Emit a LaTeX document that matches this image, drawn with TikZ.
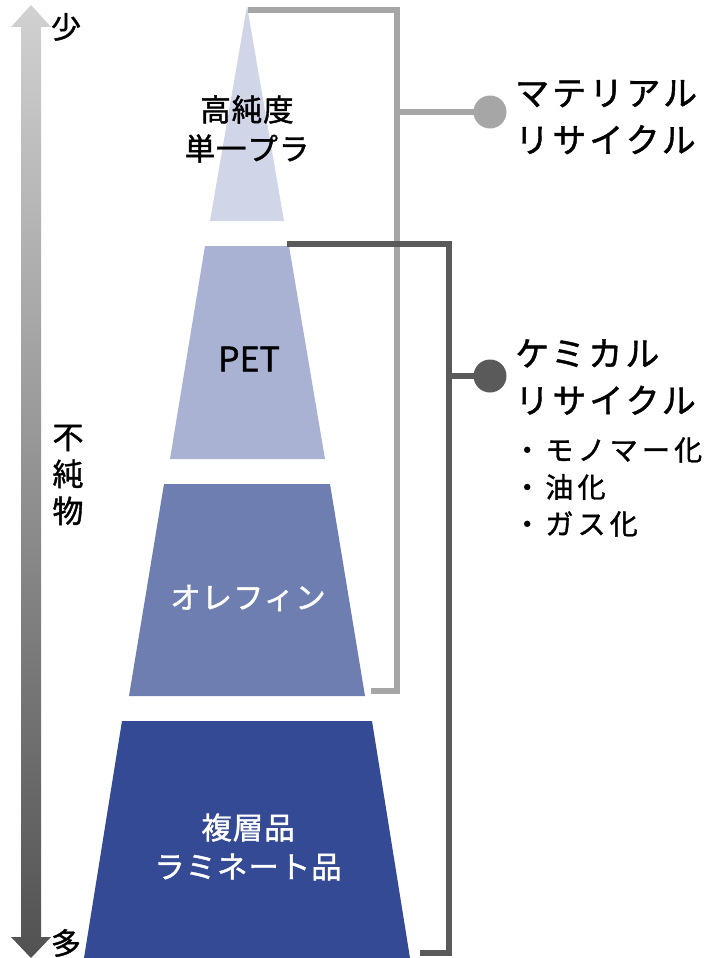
\documentclass[tikz,border=0pt]{standalone}
\usepackage{fontspec}
\setmainfont{Noto Sans CJK JP}[AutoFakeBold=1.3]
\newfontfamily\jplbl{Noto Sans CJK JP}[LetterSpace=3,AutoFakeBold=1.3]
\newfontfamily\jpwide{Noto Sans CJK JP}[LetterSpace=9,AutoFakeBold=1.3]
\newfontfamily\jpbul{Noto Sans CJK JP}[LetterSpace=15,AutoFakeBold=1.3]
\definecolor{lvA}{HTML}{D0D5E7}
\definecolor{lvB}{HTML}{A9B2D3}
\definecolor{lvC}{HTML}{6E7EB1}
\definecolor{lvD}{HTML}{344A94}
\definecolor{matgray}{HTML}{A6A6A6}
\definecolor{chemgray}{HTML}{5A5A5A}
\tikzset{
  layer/.style={draw=none},
  bracket/.style={line width=6pt, line join=miter},
  dot/.style={circle, minimum size=33pt, inner sep=0pt},
  lbl/.style={font=\jplbl\bfseries\fontsize{30.5}{39}\selectfont, align=center, inner sep=0pt},
  wlbl/.style={lbl, text=white},
  big/.style={font=\jpwide\bfseries\fontsize{34}{47}\selectfont, align=left, inner sep=0pt, anchor=west},
  bul/.style={font=\jpbul\bfseries\fontsize{28}{37}\selectfont, align=left, inner sep=0pt, anchor=west},
  side/.style={font=\bfseries\fontsize{30}{37}\selectfont, inner sep=0pt}
}
\begin{document}
\begin{tikzpicture}[x=1pt,y=-1pt]
\useasboundingbox (0,0) rectangle (707,958);
% gradient arrow
\shade[top color=black!18, bottom color=black!68]
  (31,5) -- (51,27) -- (41,27) -- (41,937) -- (51,937) -- (31,958) -- (11,937) -- (21,937) -- (21,27) -- (11,27) -- cycle;
\node[side] (few) at (66,27) {少};
\node[side] (many) at (66,943) {多};
\node[side, align=center, font=\bfseries\fontsize{31}{37}\selectfont] (impure) at (68,475) {不\\純\\物};
% pyramid layers
\fill[lvA, layer] (247,6) -- (284,221) -- (210,221) -- cycle;
\fill[lvB, layer] (205,246) -- (289,246) -- (325,459) -- (170,459) -- cycle;
\fill[lvC, layer] (164,484) -- (330,484) -- (365,696) -- (129,696) -- cycle;
\fill[lvD, layer] (122,721) -- (372,721) -- (410,958) -- (84,958) -- cycle;
\node[lbl] (pure) at (247,129) {高純度\\単一プラ};
\node[lbl, font=\bfseries\fontsize{34}{38}\selectfont] (pet) at (249,359) {PET};
\node[wlbl] (olefin) at (248,598) {オレフィン};
\node[wlbl] (multi) at (248,847) {複層品\\ラミネート品};
% brackets
\coordinate (mtop) at (248,10);
\coordinate (mbot) at (371,691);
\coordinate (ctop) at (287,244);
\coordinate (cbot) at (420,953);
\node[dot, fill=matgray] (mdot) at (490,112) {};
\node[dot, fill=chemgray] (cdot) at (490,376) {};
\draw[bracket, matgray] (mtop) -- (397,10) -- (397,691) -- (mbot);
\draw[line width=6pt, matgray] (397,112) -- (mdot.center);
\draw[bracket, chemgray] (ctop) -- (449,244) -- (449,953) -- (cbot);
\draw[line width=6pt, chemgray] (449,376) -- (cdot.center);
% labels
\node[big] (mat) at (515,117) {マテリアル\\リサイクル};
\node[big] (chem) at (515,377) {ケミカル\\リサイクル};
\node[bul] (b1) at (513,450) {・モノマー化};
\node[bul] (b2) at (513,487) {・油化};
\node[bul] (b3) at (513,524) {・ガス化};
\end{tikzpicture}
\end{document}
